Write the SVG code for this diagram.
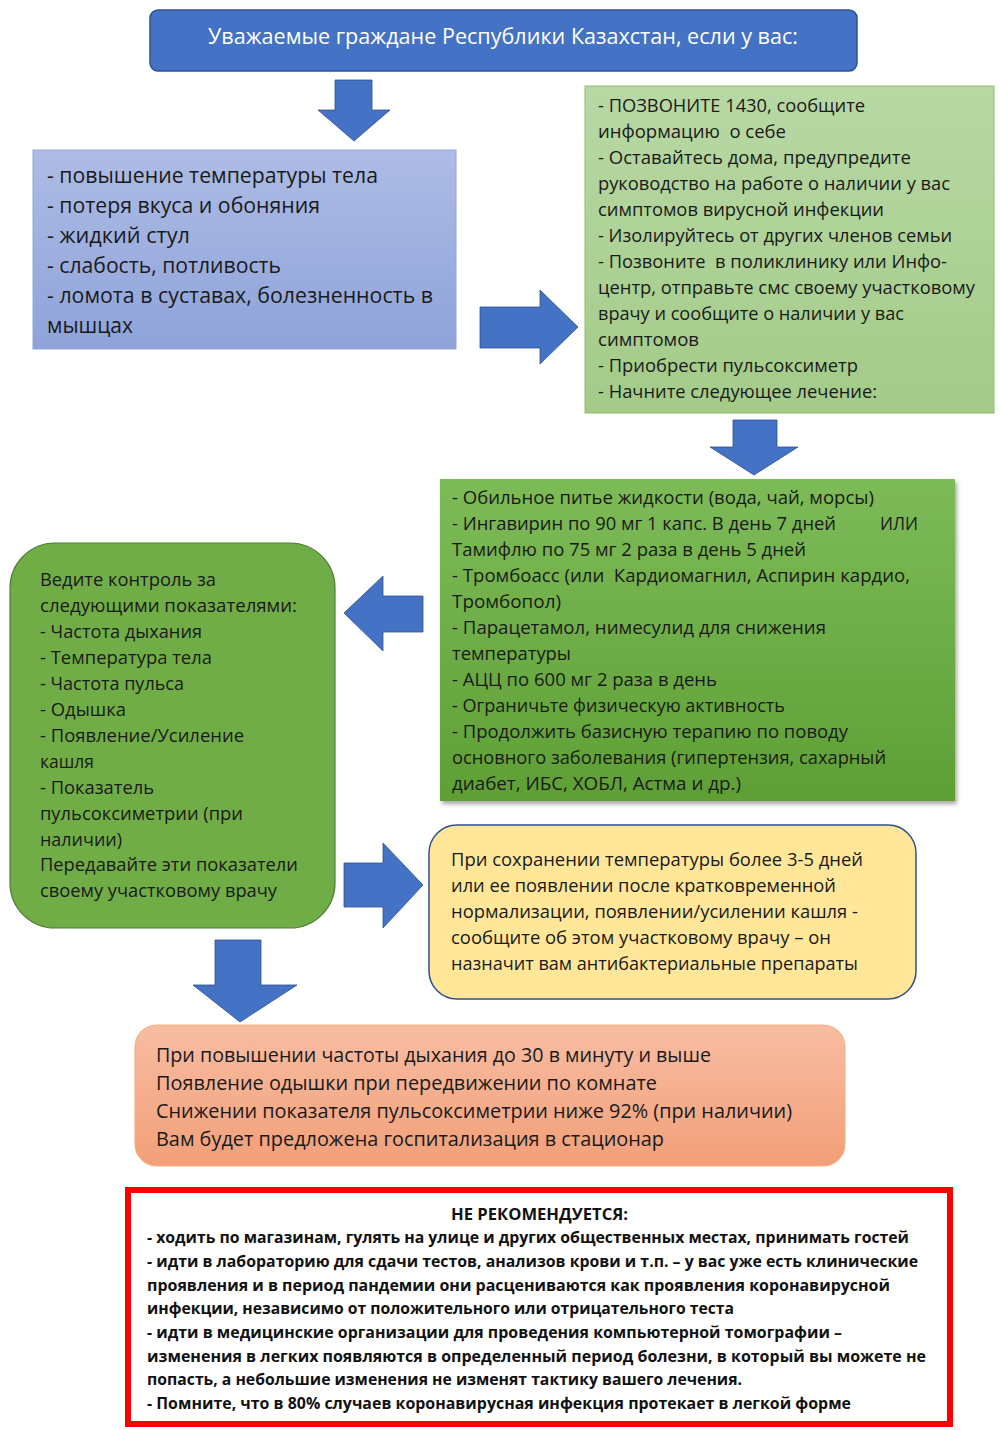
<svg xmlns="http://www.w3.org/2000/svg" width="1000" height="1430" viewBox="0 0 1000 1430">
<defs>
<linearGradient id="gBlue" x1="0" y1="0" x2="0" y2="1"><stop offset="0" stop-color="#AEBCE5"/><stop offset="1" stop-color="#8EA3DA"/></linearGradient>
<linearGradient id="gLight" x1="0" y1="0" x2="0" y2="1"><stop offset="0" stop-color="#B8D8A4"/><stop offset="1" stop-color="#A3CB88"/></linearGradient>
<linearGradient id="gDark" x1="0" y1="0" x2="0" y2="1"><stop offset="0" stop-color="#7DBB58"/><stop offset="1" stop-color="#5E9F35"/></linearGradient>
<linearGradient id="gOrange" x1="0" y1="0" x2="0" y2="1"><stop offset="0" stop-color="#F8BDA3"/><stop offset="1" stop-color="#F29F78"/></linearGradient>
<filter id="shadow" x="-5%" y="-5%" width="110%" height="115%"><feDropShadow dx="2" dy="3" stdDeviation="2" flood-color="#000" flood-opacity="0.35"/></filter>
</defs>
<style>
text{font-family:"Open Sans","Liberation Sans",sans-serif;fill:#1a1a1a;white-space:pre}
.t21{font-size:21px}
.t18{font-size:18.5px}
.t20{font-size:20px}
.red{font-size:16.5px;font-weight:700;fill:#111}
.arrow{fill:#4472C4;stroke:#2F528F;stroke-width:0.8}
</style>
<rect width="1000" height="1430" fill="#ffffff"/>

<g id="connectors">
<path class="arrow" d="M335,80 H372 V110 H390 L354,141 L318,110 H335 Z"/>
<path class="arrow" d="M480,307 H540 V290 L578,327 L540,364 V348 H480 Z"/>
<path class="arrow" d="M733,420 H777 V447 H798 L754,475 L710,447 H733 Z"/>
<path class="arrow" d="M423,596 H383 V576 L344,613 L383,651 V632 H423 Z"/>
<path class="arrow" d="M344,863 H383 V843 L423,885 L383,928 V907 H344 Z"/>
<path class="arrow" d="M215,940 H261 V985 H297 L240,1022 L193,985 H215 Z"/>
</g>

<g id="header">
<rect x="150" y="10" width="707" height="61" rx="8" fill="#4472C4" stroke="#2F528F" stroke-width="1.5"/>
<text class="t21" x="208" y="44" textLength="590" lengthAdjust="spacingAndGlyphs" style="fill:#ffffff">Уважаемые граждане Республики Казахстан, если у вас:</text>
</g>

<g id="symptoms">
<rect x="33" y="150" width="423" height="199" fill="url(#gBlue)" stroke="#8FA8DA" stroke-width="1"/>
<text class="t21" x="47" y="183" textLength="331" lengthAdjust="spacingAndGlyphs">- повышение температуры тела</text>
<text class="t21" x="47" y="213" textLength="273" lengthAdjust="spacingAndGlyphs">- потеря вкуса и обоняния</text>
<text class="t21" x="47" y="243" textLength="143" lengthAdjust="spacingAndGlyphs">- жидкий стул</text>
<text class="t21" x="47" y="273" textLength="234" lengthAdjust="spacingAndGlyphs">- слабость, потливость</text>
<text class="t21" x="47" y="303" textLength="386" lengthAdjust="spacingAndGlyphs">- ломота в суставах, болезненность в</text>
<text class="t21" x="47" y="333" textLength="86" lengthAdjust="spacingAndGlyphs">мышцах</text>
</g>

<g id="actions">
<rect x="585" y="86" width="409" height="327" fill="url(#gLight)" stroke="#8CBF6C" stroke-width="1"/>
<text class="t18" x="598" y="112" textLength="267" lengthAdjust="spacingAndGlyphs">- ПОЗВОНИТЕ 1430, сообщите</text>
<text class="t18" x="598" y="138" textLength="188" lengthAdjust="spacingAndGlyphs">информацию  о себе</text>
<text class="t18" x="598" y="164" textLength="313" lengthAdjust="spacingAndGlyphs">- Оставайтесь дома, предупредите</text>
<text class="t18" x="598" y="190" textLength="352" lengthAdjust="spacingAndGlyphs">руководство на работе о наличии у вас</text>
<text class="t18" x="598" y="216" textLength="286" lengthAdjust="spacingAndGlyphs">симптомов вирусной инфекции</text>
<text class="t18" x="598" y="242" textLength="354" lengthAdjust="spacingAndGlyphs">- Изолируйтесь от других членов семьи</text>
<text class="t18" x="598" y="268" textLength="349" lengthAdjust="spacingAndGlyphs">- Позвоните  в поликлинику или Инфо-</text>
<text class="t18" x="598" y="294" textLength="377" lengthAdjust="spacingAndGlyphs">центр, отправьте смс своему участковому</text>
<text class="t18" x="598" y="320" textLength="306" lengthAdjust="spacingAndGlyphs">врачу и сообщите о наличии у вас</text>
<text class="t18" x="598" y="346" textLength="101" lengthAdjust="spacingAndGlyphs">симптомов</text>
<text class="t18" x="598" y="372" textLength="260" lengthAdjust="spacingAndGlyphs">- Приобрести пульсоксиметр</text>
<text class="t18" x="598" y="398" textLength="279" lengthAdjust="spacingAndGlyphs">- Начните следующее лечение:</text>
</g>

<g id="treatment">
<rect x="440" y="479" width="515" height="322" fill="url(#gDark)" filter="url(#shadow)"/>
<text class="t18" x="452" y="504" textLength="422" lengthAdjust="spacingAndGlyphs">- Обильное питье жидкости (вода, чай, морсы)</text>
<text class="t18" x="452" y="530" textLength="384" lengthAdjust="spacingAndGlyphs">- Ингавирин по 90 мг 1 капс. В день 7 дней</text>
<text class="t18" x="880" y="530" textLength="38" lengthAdjust="spacingAndGlyphs">ИЛИ</text>
<text class="t18" x="452" y="556" textLength="354" lengthAdjust="spacingAndGlyphs">Тамифлю по 75 мг 2 раза в день 5 дней</text>
<text class="t18" x="452" y="582" textLength="458" lengthAdjust="spacingAndGlyphs">- Тромбоасс (или  Кардиомагнил, Аспирин кардио,</text>
<text class="t18" x="452" y="608" textLength="109" lengthAdjust="spacingAndGlyphs">Тромбопол)</text>
<text class="t18" x="452" y="634" textLength="374" lengthAdjust="spacingAndGlyphs">- Парацетамол, нимесулид для снижения</text>
<text class="t18" x="452" y="660" textLength="119" lengthAdjust="spacingAndGlyphs">температуры</text>
<text class="t18" x="452" y="686" textLength="265" lengthAdjust="spacingAndGlyphs">- АЦЦ по 600 мг 2 раза в день</text>
<text class="t18" x="452" y="712" textLength="333" lengthAdjust="spacingAndGlyphs">- Ограничьте физическую активность</text>
<text class="t18" x="452" y="738" textLength="396" lengthAdjust="spacingAndGlyphs">- Продолжить базисную терапию по поводу</text>
<text class="t18" x="452" y="764" textLength="434" lengthAdjust="spacingAndGlyphs">основного заболевания (гипертензия, сахарный</text>
<text class="t18" x="452" y="790" textLength="289" lengthAdjust="spacingAndGlyphs">диабет, ИБС, ХОБЛ, Астма и др.)</text>
</g>

<g id="monitoring">
<rect x="10" y="543" width="325" height="385" rx="45" fill="#70AD47" stroke="#507E32" stroke-width="1.2"/>
<text class="t18" x="40" y="586" textLength="176" lengthAdjust="spacingAndGlyphs">Ведите контроль за</text>
<text class="t18" x="40" y="612" textLength="257" lengthAdjust="spacingAndGlyphs">следующими показателями:</text>
<text class="t18" x="40" y="638" textLength="162" lengthAdjust="spacingAndGlyphs">- Частота дыхания</text>
<text class="t18" x="40" y="664" textLength="172" lengthAdjust="spacingAndGlyphs">- Температура тела</text>
<text class="t18" x="40" y="690" textLength="144" lengthAdjust="spacingAndGlyphs">- Частота пульса</text>
<text class="t18" x="40" y="716" textLength="86" lengthAdjust="spacingAndGlyphs">- Одышка</text>
<text class="t18" x="40" y="742" textLength="204" lengthAdjust="spacingAndGlyphs">- Появление/Усиление</text>
<text class="t18" x="40" y="768" textLength="54" lengthAdjust="spacingAndGlyphs">кашля</text>
<text class="t18" x="40" y="794" textLength="114" lengthAdjust="spacingAndGlyphs">- Показатель</text>
<text class="t18" x="40" y="820" textLength="203" lengthAdjust="spacingAndGlyphs">пульсоксиметрии (при</text>
<text class="t18" x="40" y="846" textLength="82" lengthAdjust="spacingAndGlyphs">наличии)</text>
<text class="t18" x="40" y="871" textLength="258" lengthAdjust="spacingAndGlyphs">Передавайте эти показатели</text>
<text class="t18" x="40" y="897" textLength="237" lengthAdjust="spacingAndGlyphs">своему участковому врачу</text>
</g>

<g id="fever">
<rect x="429" y="825" width="487" height="174" rx="28" fill="#FFE699" stroke="#2F528F" stroke-width="1.5"/>
<text class="t18" x="451" y="866" textLength="412" lengthAdjust="spacingAndGlyphs">При сохранении температуры более 3-5 дней</text>
<text class="t18" x="451" y="892" textLength="385" lengthAdjust="spacingAndGlyphs">или ее появлении после кратковременной</text>
<text class="t18" x="451" y="918" textLength="407" lengthAdjust="spacingAndGlyphs">нормализации, появлении/усилении кашля -</text>
<text class="t18" x="451" y="944" textLength="380" lengthAdjust="spacingAndGlyphs">сообщите об этом участковому врачу – он</text>
<text class="t18" x="451" y="970" textLength="407" lengthAdjust="spacingAndGlyphs">назначит вам антибактериальные препараты</text>
</g>

<g id="hospital">
<rect x="135" y="1025" width="710" height="141" rx="22" fill="url(#gOrange)" stroke="#F4B183" stroke-width="1.2"/>
<text class="t20" x="156" y="1062" textLength="555" lengthAdjust="spacingAndGlyphs">При повышении частоты дыхания до 30 в минуту и выше</text>
<text class="t20" x="156" y="1090" textLength="501" lengthAdjust="spacingAndGlyphs">Появление одышки при передвижении по комнате</text>
<text class="t20" x="156" y="1118" textLength="636" lengthAdjust="spacingAndGlyphs">Снижении показателя пульсоксиметрии ниже 92% (при наличии)</text>
<text class="t20" x="156" y="1146" textLength="508" lengthAdjust="spacingAndGlyphs">Вам будет предложена госпитализация в стационар</text>
</g>

<g id="not-recommended">
<rect x="128" y="1190" width="822" height="234" fill="#ffffff" stroke="#FF0000" stroke-width="6"/>
<text class="red" x="451" y="1220" textLength="177" lengthAdjust="spacingAndGlyphs">НЕ РЕКОМЕНДУЕТСЯ:</text>
<text class="red" x="147" y="1243" textLength="762" lengthAdjust="spacingAndGlyphs">- ходить по магазинам, гулять на улице и других общественных местах, принимать гостей</text>
<text class="red" x="147" y="1267" textLength="771" lengthAdjust="spacingAndGlyphs">- идти в лабораторию для сдачи тестов, анализов крови и т.п. – у вас уже есть клинические</text>
<text class="red" x="147" y="1291" textLength="743" lengthAdjust="spacingAndGlyphs">проявления и в период пандемии они расцениваются как проявления коронавирусной</text>
<text class="red" x="147" y="1314" textLength="587" lengthAdjust="spacingAndGlyphs">инфекции, независимо от положительного или отрицательного теста</text>
<text class="red" x="147" y="1338" textLength="695" lengthAdjust="spacingAndGlyphs">- идти в медицинские организации для проведения компьютерной томографии –</text>
<text class="red" x="147" y="1362" textLength="779" lengthAdjust="spacingAndGlyphs">изменения в легких появляются в определенный период болезни, в который вы можете не</text>
<text class="red" x="147" y="1385" textLength="595" lengthAdjust="spacingAndGlyphs">попасть, а небольшие изменения не изменят тактику вашего лечения.</text>
<text class="red" x="147" y="1409" textLength="704" lengthAdjust="spacingAndGlyphs">- Помните, что в 80% случаев коронавирусная инфекция протекает в легкой форме</text>
</g>
</svg>
